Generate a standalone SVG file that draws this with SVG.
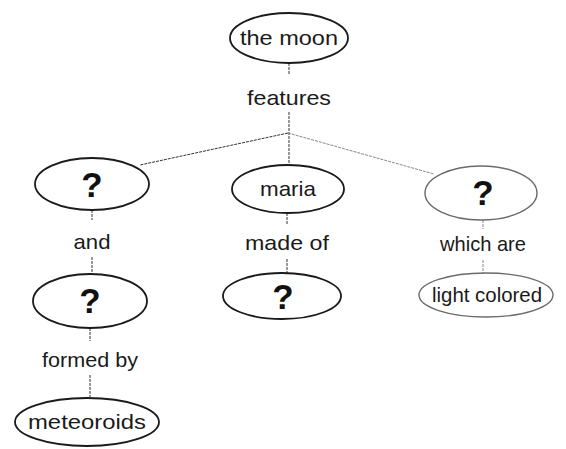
<svg xmlns="http://www.w3.org/2000/svg" width="566" height="449" viewBox="0 0 566 449">
  <style>
    .node { fill: #ffffff; stroke: #1a1a1a; stroke-width: 1.8; }
    .faint { stroke: #6a6a6a; stroke-width: 1.4; }
    .lbl { font-family: "Liberation Sans", "DejaVu Sans", sans-serif; font-size: 21px; fill: #1a1a1a; text-anchor: middle; }
    .q { font-family: "Liberation Sans", "DejaVu Sans", sans-serif; font-size: 35px; font-weight: bold; fill: #111; text-anchor: middle; }
    .link { fill: none; stroke: #333; stroke-width: 1; stroke-dasharray: 3 1; }
    .linkFaint { stroke: #888; }
  </style>

  <!-- connectors -->
  <g id="connectors">
    <line class="link" x1="289" y1="63" x2="289" y2="74"/>
    <line class="link" x1="289" y1="112" x2="289" y2="163"/>
    <line class="link" x1="288" y1="133" x2="140" y2="165"/>
    <line class="link linkFaint" x1="288" y1="133" x2="434" y2="174"/>
    <line class="link" x1="92" y1="210" x2="92" y2="220"/>
    <line class="link" x1="92" y1="257" x2="92" y2="275"/>
    <line class="link" x1="90" y1="328" x2="90" y2="341"/>
    <line class="link" x1="90" y1="375" x2="90" y2="397"/>
    <line class="link" x1="287" y1="213" x2="287" y2="225"/>
    <line class="link" x1="287" y1="259" x2="287" y2="273"/>
    <line class="link linkFaint" x1="483" y1="220" x2="483" y2="229"/>
    <line class="link linkFaint" x1="483" y1="260" x2="483" y2="273"/>
  </g>

  <!-- linking phrases -->
  <g id="phrases">
    <text class="lbl" x="289" y="105" textLength="84" lengthAdjust="spacingAndGlyphs">features</text>
    <text class="lbl" x="92" y="249" textLength="37" lengthAdjust="spacingAndGlyphs">and</text>
    <text class="lbl" x="287" y="250" textLength="84" lengthAdjust="spacingAndGlyphs">made of</text>
    <text class="lbl" x="483" y="251" textLength="86" lengthAdjust="spacingAndGlyphs">which are</text>
    <text class="lbl" x="90" y="367" textLength="96" lengthAdjust="spacingAndGlyphs">formed by</text>
  </g>

  <g id="node-moon">
    <ellipse class="node" cx="289" cy="38" rx="59" ry="25"/>
    <text class="lbl" x="289" y="45" textLength="98" lengthAdjust="spacingAndGlyphs">the moon</text>
  </g>

  <g id="node-q-left">
    <ellipse class="node" cx="92" cy="184" rx="57" ry="26"/>
    <text class="q" x="92" y="197">?</text>
  </g>

  <g id="node-maria">
    <ellipse class="node" cx="288" cy="189" rx="56" ry="24"/>
    <text class="lbl" x="288" y="196" textLength="56" lengthAdjust="spacingAndGlyphs">maria</text>
  </g>

  <g id="node-q-right">
    <ellipse class="node faint" cx="481" cy="193" rx="56" ry="27"/>
    <text class="q" x="483" y="205">?</text>
  </g>

  <g id="node-q-left2">
    <ellipse class="node" cx="90" cy="301" rx="57" ry="27"/>
    <text class="q" x="90" y="313">?</text>
  </g>

  <g id="node-q-center">
    <ellipse class="node" cx="282" cy="296" rx="59" ry="23"/>
    <text class="q" x="283" y="309">?</text>
  </g>

  <g id="node-light">
    <ellipse class="node faint" cx="486" cy="295" rx="67" ry="22"/>
    <text class="lbl" x="487" y="302" textLength="110" lengthAdjust="spacingAndGlyphs">light colored</text>
  </g>

  <g id="node-meteoroids">
    <ellipse class="node" cx="87" cy="422" rx="72" ry="24"/>
    <text class="lbl" x="87" y="429" textLength="118" lengthAdjust="spacingAndGlyphs">meteoroids</text>
  </g>
</svg>
